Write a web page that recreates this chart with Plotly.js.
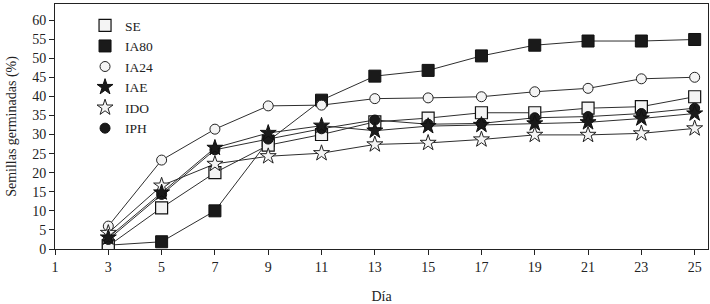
<!DOCTYPE html>
<html><head><meta charset="utf-8">
<script src="https://cdn.plot.ly/plotly-3.0.1.min.js"></script>
<style>body{margin:0;background:#fff}#chart{width:710px;height:304px}</style>
</head><body><div id="chart"></div>
<script>
const days = [3, 5, 7, 9, 11, 13, 15, 17, 19, 21, 23, 25];
const seriesNames = ['SE', 'IA80', 'IA24', 'IAE', 'IDO', 'IPH'];
const SE   = [0.8, 10.8, 20.0, 27.2, 30.0, 33.3, 34.3, 35.7, 35.7, 36.9, 37.3, 39.9];
const IA80 = [1.0, 1.9, 10.0, 28.3, 39.0, 45.3, 46.8, 50.6, 53.4, 54.5, 54.5, 54.9];
const IA24 = [6.0, 23.3, 31.4, 37.5, 37.7, 39.4, 39.6, 39.9, 41.2, 42.1, 44.6, 45.0];
const IAE  = [3.0, 14.8, 26.5, 30.4, 32.3, 31.0, 32.2, 32.5, 32.9, 33.2, 34.2, 35.5];
const IDO  = [4.2, 16.6, 22.3, 24.3, 25.1, 27.4, 27.8, 28.7, 29.9, 29.9, 30.3, 31.6];
const IPH  = [2.5, 14.3, 26.0, 28.8, 31.5, 33.8, 32.7, 32.9, 34.4, 34.7, 35.5, 36.9];
const xTicks = [1, 3, 5, 7, 9, 11, 13, 15, 17, 19, 21, 23, 25];
const yTicks = [0, 5, 10, 15, 20, 25, 30, 35, 40, 45, 50, 55, 60];

const values = {SE, IA80, IA24, IAE, IDO, IPH};
const markerStyle = {
  SE:   {symbol: 'square', size: 12, color: '#f4f4f4', line: {color: '#111', width: 1.2}},
  IA80: {symbol: 'square', size: 12, color: '#1a1a1a', line: {color: '#111', width: 1}},
  IA24: {symbol: 'circle', size: 10, color: '#f4f4f4', line: {color: '#222', width: 1}},
  IAE:  {symbol: 'star', size: 12, color: '#1a1a1a', line: {color: '#111', width: 1}},
  IDO:  {symbol: 'star', size: 12, color: '#f4f4f4', line: {color: '#222', width: 1}},
  IPH:  {symbol: 'circle', size: 10, color: '#1a1a1a', line: {color: '#111', width: 1}}
};
const drawOrder = ['IA80', 'SE', 'IA24', 'IPH', 'IDO', 'IAE'];
const traces = [];
drawOrder.forEach(n => {
  traces.push({x: days, y: values[n], mode: 'lines', showlegend: false, hoverinfo: 'skip',
    line: {color: '#2e2e2e', width: 1}});
});
drawOrder.forEach(n => {
  traces.push({x: days, y: values[n], mode: 'markers', name: n,
    legendrank: seriesNames.indexOf(n) + 1, marker: markerStyle[n]});
});

const fam = 'Liberation Serif, DejaVu Serif, serif';
const font = {family: fam, size: 14, color: '#222'};
const layout = {
  width: 710, height: 304,
  margin: {l: 55, r: 2, t: 4, b: 55},
  paper_bgcolor: '#fff', plot_bgcolor: '#fff',
  font: font,
  showlegend: true,
  legend: {x: 0.046, y: 0.975, xanchor: 'left', yanchor: 'top', bgcolor: 'rgba(0,0,0,0)',
    font: {family: fam, size: 13.5, color: '#222'}, itemwidth: 30, tracegroupgap: 0},
  xaxis: {range: [1, 25.5], tickvals: xTicks, ticktext: xTicks.map(String),
    showgrid: false, zeroline: false, showline: true, linecolor: '#222', linewidth: 1, mirror: true,
    ticks: 'outside', ticklen: 5, tickcolor: '#222',
    title: {text: 'Día', font: {family: fam, size: 14, color: '#222'}, standoff: 18}},
  yaxis: {range: [0, 64.2], tickvals: yTicks, ticktext: yTicks.map(String),
    showgrid: false, zeroline: false, showline: true, linecolor: '#222', linewidth: 1, mirror: true,
    ticks: 'outside', ticklen: 5, tickcolor: '#222',
    title: {text: 'Semillas germinadas (%)', font: {family: fam, size: 14, color: '#222'}, standoff: 12}}
};
Plotly.newPlot('chart', traces, layout, {displayModeBar: false, staticPlot: true});
</script></body></html>
